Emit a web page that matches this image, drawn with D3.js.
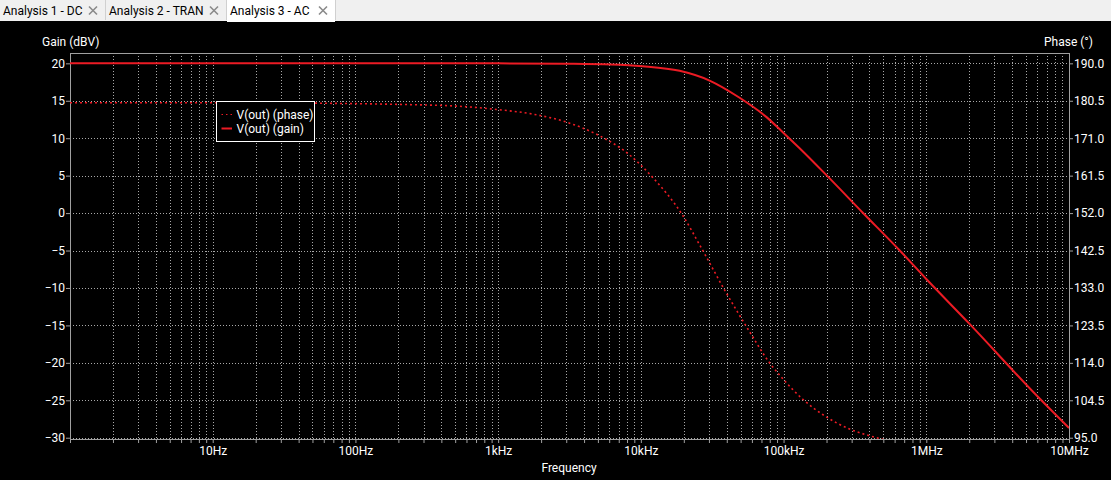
<!DOCTYPE html>
<html>
<head>
<meta charset="utf-8">
<script src="https://cdn.jsdelivr.net/npm/d3@7"></script>
<style>
    body { margin: 0; background: #000; overflow: hidden; }
    svg { display: block; }
    text { font-family: Roboto, "Noto Sans", sans-serif; font-size: 12px; }
    .tick-label, .axis-title { fill: #fff; }
    .grid line { stroke: #a8a8a8; stroke-dasharray: 1,2; }
</style>
</head>
<body>
<svg width="1111" height="480"></svg>
<script>
// tabs on top of the plot window
var tabNames = ['Analysis 1 - DC', 'Analysis 2 - TRAN', 'Analysis 3 - AC'];
var activeTab = 2;

// gain curve (dBV)
var gainFreq = [1, 10, 100, 1000, 3000, 6200, 10300, 18700, 30300, 49200, 75600, 100000, 129000, 199000, 359000, 667000, 1000000, 2010000, 5890000, 10000000];
var gainValue = [20.0, 20.0, 20.0, 20.0, 19.95, 19.85, 19.62, 19.0, 17.7, 15.4, 12.85, 10.7, 8.7, 5.1, 0.05, -5.2, -8.8, -14.8, -24.3, -28.7];

// phase curve (deg)
var phaseFreq = [1, 10, 50, 133, 254, 483, 973, 1760, 3000, 5140, 8120, 12200, 19500, 26500, 39000, 57800, 79800, 96400, 137000, 199000, 290000, 400000, 470000, 1000000, 10000000];
var phaseValue = [180.0, 180.0, 179.9, 179.7, 179.5, 179.2, 178.3, 177.1, 175.1, 171.6, 167.1, 160.9, 151.6, 143.2, 132.2, 121.9, 114.0, 110.4, 104.7, 100.3, 97.2, 95.5, 94.8, 92.0, 90.2];

// axis ticks
var gainTicks = [20, 15, 10, 5, 0, -5, -10, -15, -20, -25, -30];
var phaseTicks = [190.0, 180.5, 171.0, 161.5, 152.0, 142.5, 133.0, 123.5, 114.0, 104.5, 95.0];
var freqTicks = [10, 100, 1000, 10000, 100000, 1000000, 10000000];
var freqLabels = ['10Hz', '100Hz', '1kHz', '10kHz', '100kHz', '1MHz', '10MHz'];

var seriesNames = ['V(out) (phase)', 'V(out) (gain)'];
var red = '#ec1b24';

var svg = d3.select('svg');
var plotLeft = 70, plotRight = 1069, plotTop = 53, plotBottom = 439;

//tab bar
svg.append('rect')
    .attr('width', 1111).attr('height', 21)
    .style('fill', '#f0f0f0');
var tabX = [0, 106, 227, 336];
tabNames.forEach(function (name, i) {
    var g = svg.append('g').attr('transform', 'translate(' + tabX[i] + ',0)');
    var w = tabX[i + 1] - tabX[i] - 1;
    g.append('rect')
        .attr('width', w).attr('height', i === activeTab ? 22 : 20)
        .style('fill', i === activeTab ? '#fff' : '#f0f0f0');
    g.append('line')
        .attr('x1', w + 0.5).attr('x2', w + 0.5)
        .attr('y1', 0).attr('y2', 20)
        .style('stroke', '#d0d0d0');
    g.append('text')
        .attr('x', 3).attr('y', 15)
        .style('fill', '#000')
        .text(name);
    //close cross
    var cx = w - 12, cy = 10.5;
    g.append('path')
        .attr('d', 'M' + (cx - 4) + ',' + (cy - 4) + 'L' + (cx + 4) + ',' + (cy + 4) +
            'M' + (cx + 4) + ',' + (cy - 4) + 'L' + (cx - 4) + ',' + (cy + 4))
        .style('stroke', '#8a8a8a')
        .style('stroke-width', 1.6);
});

//scales
var xScale = d3.scaleLog()
    .domain([1, 10000000])
    .range([plotLeft, plotRight]);

var yScale = d3.scaleLinear()
    .domain([-30.17, 21.38])
    .range([plotBottom, plotTop]);

var pScale = d3.scaleLinear()
    .domain([152 + 1.9 * -30.17, 152 + 1.9 * 21.38])
    .range([plotBottom, plotTop]);

//grid
var grid = svg.append('g').attr('class', 'grid');
grid.selectAll('.vgrid')
    .data(xScale.ticks().filter(d => d > 1 && d < 10000000))
    .enter().append('line')
    .attr('x1', d => Math.round(xScale(d)) + 0.5)
    .attr('x2', d => Math.round(xScale(d)) + 0.5)
    .attr('y1', plotTop).attr('y2', plotBottom);
grid.selectAll('.hgrid')
    .data(gainTicks)
    .enter().append('line')
    .attr('x1', plotLeft).attr('x2', plotRight)
    .attr('y1', d => Math.round(yScale(d)) + 0.5)
    .attr('y2', d => Math.round(yScale(d)) + 0.5);

//bottom axis
var xAxis = d3.axisBottom(xScale)
    .tickValues(xScale.ticks())
    .tickSize(4)
    .tickFormat(d => {
        var i = freqTicks.indexOf(d);
        return i >= 0 ? freqLabels[i] : '';
    });
var gx = svg.append('g')
    .attr('transform', 'translate(0,' + plotBottom + ')')
    .call(xAxis);

//left axis
var yAxis = d3.axisLeft(yScale)
    .tickValues(gainTicks)
    .tickSize(4)
    .tickFormat(d3.format('d'));
var gy = svg.append('g')
    .attr('transform', 'translate(' + plotLeft + ',0)')
    .call(yAxis);

//right axis
var pAxis = d3.axisRight(pScale)
    .tickValues(phaseTicks)
    .tickSize(4)
    .tickFormat(d3.format('.1f'));
var gp = svg.append('g')
    .attr('transform', 'translate(' + plotRight + ',0)')
    .call(pAxis);

[gx, gy, gp].forEach(function (g) {
    g.select('.domain').remove();
    g.selectAll('line').style('stroke', '#a0a0a0');
    g.selectAll('text')
        .attr('class', 'tick-label')
        .style('font-family', 'Roboto, "Noto Sans", sans-serif')
        .style('font-size', '12px');
});
gx.selectAll('text').attr('dy', '0.71em').attr('y', 7);
gy.selectAll('text').attr('x', -5);
gp.selectAll('text').attr('x', 5);

//frame
svg.append('rect')
    .attr('x', plotLeft + 0.5).attr('y', plotTop + 0.5)
    .attr('width', plotRight - plotLeft).attr('height', plotBottom - plotTop)
    .style('fill', 'none')
    .style('stroke', '#a0a0a0');

//axis titles
svg.append('text')
    .attr('class', 'axis-title')
    .attr('x', 42).attr('y', 46)
    .text('Gain (dBV)');
svg.append('text')
    .attr('class', 'axis-title')
    .attr('x', 1093).attr('y', 46)
    .attr('text-anchor', 'end')
    .text('Phase (°)');
svg.append('text')
    .attr('class', 'axis-title')
    .attr('x', 569).attr('y', 472)
    .attr('text-anchor', 'middle')
    .text('Frequency');

//curves
svg.append('clipPath').attr('id', 'plot-clip')
    .append('rect')
    .attr('x', plotLeft).attr('y', plotTop)
    .attr('width', plotRight - plotLeft).attr('height', plotBottom - plotTop);

var phaseLine = d3.line()
    .x((d, i) => xScale(phaseFreq[i]))
    .y(d => pScale(d))
    .curve(d3.curveMonotoneX);
svg.append('path')
    .datum(phaseValue)
    .attr('clip-path', 'url(#plot-clip)')
    .attr('d', phaseLine)
    .style('fill', 'none')
    .style('stroke', red)
    .style('stroke-width', 1.6)
    .style('stroke-dasharray', '2,3');

var gainLine = d3.line()
    .x((d, i) => xScale(gainFreq[i]))
    .y(d => yScale(d))
    .curve(d3.curveMonotoneX);
svg.append('path')
    .datum(gainValue)
    .attr('clip-path', 'url(#plot-clip)')
    .attr('d', gainLine)
    .style('fill', 'none')
    .style('stroke', red)
    .style('stroke-width', 2);

//legend
var legend = svg.append('g').attr('transform', 'translate(216.5,101.5)');
legend.append('rect')
    .attr('width', 98).attr('height', 40)
    .style('fill', '#000')
    .style('stroke', '#fff');
seriesNames.forEach(function (name, i) {
    var y = 13 + i * 14;
    legend.append('line')
        .attr('x1', 5).attr('x2', 15.5)
        .attr('y1', y).attr('y2', y)
        .style('stroke', red)
        .style('stroke-width', i === 0 ? 1.2 : 2)
        .style('stroke-dasharray', i === 0 ? '1.5,3' : null);
    legend.append('text')
        .attr('class', 'tick-label')
        .attr('x', 20).attr('y', y + 4)
        .text(name);
});
</script>
</body>
</html>
